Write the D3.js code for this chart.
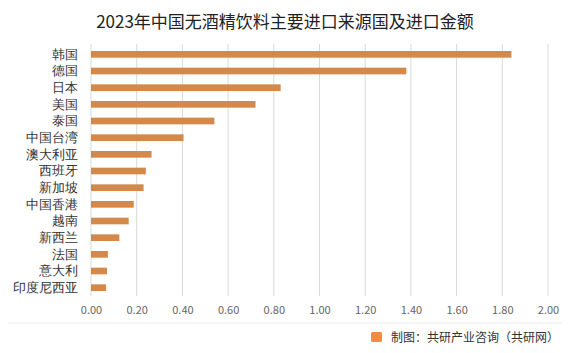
<!DOCTYPE html>
<html>
<head>
<meta charset="utf-8">
<script src="https://cdn.jsdelivr.net/npm/d3@7"></script>
<style>
  body { margin: 0; background: #fff; }
  svg { font-family: "Microsoft YaHei", "Noto Sans CJK SC", sans-serif; }
</style>
</head>
<body>
<div id="chart"></div>
<script>
// 2023年中国无酒精饮料主要进口来源国及进口金额 — horizontal bar chart
const categories = ["韩国","德国","日本","美国","泰国","中国台湾","澳大利亚","西班牙","新加坡","中国香港","越南","新西兰","法国","意大利","印度尼西亚"];
const values = [1.84, 1.38, 0.83, 0.72, 0.54, 0.405, 0.265, 0.24, 0.23, 0.187, 0.165, 0.124, 0.074, 0.07, 0.066];
const xTicks = [0, 0.2, 0.4, 0.6, 0.8, 1.0, 1.2, 1.4, 1.6, 1.8, 2.0];

(function(){
  const width = 570, height = 353;
  const margin = {top: 46, right: 22, bottom: 57, left: 91};
  const innerW = width - margin.left - margin.right;
  const innerH = height - margin.top - margin.bottom;

  const svg = d3.select("#chart").append("svg")
    .attr("width", width)
    .attr("height", height);

  svg.append("rect").attr("width", width).attr("height", height).attr("fill", "#fff");

  // Title
  svg.append("text")
    .attr("x", 285)
    .attr("y", 28)
    .attr("text-anchor", "middle")
    .attr("fill", "#222")
    .style("font-size", "17px")
    .text("2023年中国无酒精饮料主要进口来源国及进口金额");

  const g = svg.append("g")
    .attr("transform", `translate(${margin.left},${margin.top})`);

  const x = d3.scaleLinear().domain([0, 2]).range([0, innerW]);
  const y = d3.scaleBand().domain(categories).range([0, innerH]).paddingInner(0.6).paddingOuter(0.3);

  // Gridlines
  g.append("g")
    .selectAll("line")
    .data(xTicks)
    .join("line")
    .attr("x1", d => x(d)).attr("x2", d => x(d))
    .attr("y1", -2).attr("y2", innerH)
    .attr("stroke", "#d9d9d9")
    .attr("stroke-width", 1);

  // X axis labels
  const xAxis = g.append("g")
    .attr("transform", `translate(0,${innerH})`)
    .call(d3.axisBottom(x).tickValues(xTicks).tickFormat(d3.format(".2f")).tickSize(0).tickPadding(10));
  xAxis.select(".domain").remove();
  xAxis.selectAll("text")
    .attr("fill", "#666")
    .style("font-size", "11px")
    .style("font-family", "\"Noto Sans CJK SC\", sans-serif");

  // Y axis labels
  const yAxis = g.append("g")
    .call(d3.axisLeft(y).tickSize(0).tickPadding(13));
  yAxis.select(".domain").remove();
  yAxis.selectAll("text")
    .attr("fill", "#333")
    .style("font-size", "13px");

  // Bars
  g.selectAll(".bar")
    .data(values)
    .join("rect")
    .attr("class", "bar")
    .attr("x", 0)
    .attr("y", (d, i) => y(categories[i]))
    .attr("width", d => x(d))
    .attr("height", y.bandwidth())
    .attr("fill", "#d4894a");

  // Footer
  svg.append("line")
    .attr("x1", 8).attr("x2", 562)
    .attr("y1", 323).attr("y2", 323)
    .attr("stroke", "#ebebeb");

  svg.append("rect")
    .attr("x", 371).attr("y", 332)
    .attr("width", 11).attr("height", 10)
    .attr("rx", 1.5)
    .attr("fill", "#f08c45");

  svg.append("text")
    .attr("x", 391)
    .attr("y", 342)
    .attr("fill", "#333")
    .style("font-size", "12px")
    .text("制图：共研产业咨询（共研网）");
})();
</script>
</body>
</html>
